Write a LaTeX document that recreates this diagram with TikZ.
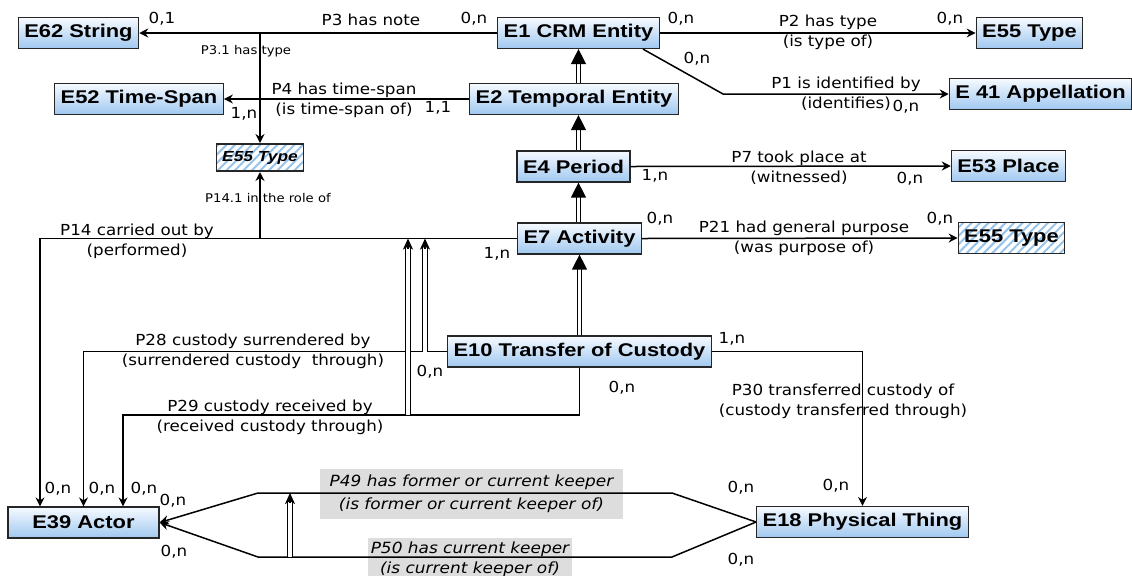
\documentclass[tikz,border=0pt]{standalone}
\usepackage{fontspec}
\newfontfamily\boxfont[FakeStretch=1.19]{Liberation Sans}
\newfontfamily\lblfont[FakeStretch=1.1]{DejaVu Sans}
\usetikzlibrary{arrows.meta,patterns.meta}
\usetikzlibrary{backgrounds}
\definecolor{boxtop}{RGB}{246,250,255}
\definecolor{boxbottom}{RGB}{160,200,240}
\definecolor{hatch}{RGB}{150,195,235}
\definecolor{keepergray}{RGB}{221,221,221}
\tikzset{entity/.style={
        draw=black!85, 
        line width=0.6pt, 
        top color=boxtop, 
        bottom color=boxbottom, 
        minimum height=15.5pt, 
        inner xsep=3pt,
        font=\boxfont\bfseries\fontsize{9.2}{11}\selectfont } }
\tikzset{typeentity/.style={
        draw=black!85, 
        line width=0.6pt, 
        pattern={Lines[angle=45,distance=3pt,line width=1pt]}, 
        pattern color=hatch, 
        minimum height=15.5pt, 
        inner xsep=3pt,
        font=\boxfont\bfseries\fontsize{9.2}{11}\selectfont } }
\tikzset{prop/.style={ inner sep=0pt, align=center, font=\lblfont\fontsize{7.6}{10}\selectfont } }
\tikzset{propsmall/.style={ inner sep=0pt, font=\lblfont\fontsize{6}{7}\selectfont } }
\tikzset{card/.style={ prop } }
\tikzset{keeper/.style={ fill=keepergray, align=center, inner sep=0pt, font=\lblfont\itshape\fontsize{7.7}{11.5}\selectfont } }
\tikzset{rel/.style={ draw, line width=0.75pt, -{Stealth[length=4.5pt,width=4.5pt,inset=1.5pt]} } }
\tikzset{isa/.style={ draw, line width=0.65pt, double, double distance=1.6pt, -{Triangle[length=7.5pt,width=7.5pt]} } }
\tikzset{subprop/.style={ draw, line width=0.6pt, double, double distance=1.6pt, shorten >=4pt } }
\tikzset{subtip/.style={ draw, line width=0.75pt, -{Stealth[length=5.5pt,width=5pt,inset=1.5pt]} } }
\begin{document}
\begin{tikzpicture}[x=0.5pt,y=-0.5pt]
\useasboundingbox (0,0) rectangle (1132,575);

%%ENTITIES
\node[entity] (e62) at (78.5,33) {E62 String};
\node[entity] (e1) at (578.5,33) {E1 CRM Entity};
\node[entity] (e55a) at (1029.5,33) {E55 Type};
\node[entity] (e52) at (139,99) {E52 Time-Span};
\node[entity] (e2) at (574,99) {E2 Temporal Entity};
\node[entity] (e41) at (1040.5,94) {E 41 Appellation};
\node[typeentity, minimum height=13.5pt, font=\boxfont\bfseries\itshape\fontsize{7.3}{9}\selectfont] (e55b) at (260,157.5) {E55 Type};
\node[entity] (e4) at (573.5,166.5) {E4 Period};
\node[entity] (e53) at (1008.5,166) {E53 Place};
\node[entity] (e7) at (579.5,238.5) {E7 Activity};
\node[typeentity] (e55c) at (1011.5,238) {E55 Type};
\node[entity] (e10) at (579.5,351.5) {E10 Transfer of Custody};
\node[entity, minimum width=75.5pt] (e39) at (83.5,522.5) {E39 Actor};
\node[entity] (e18) at (862.5,522) {E18 Physical Thing};

%%IS-A
\draw[isa] (e2.north -| e1) -- (e1.south);
\draw[isa] (e4.north -| e1) -- (e2.south -| e1);
\draw[isa] (e7.north -| e1) -- (e4.south -| e1);
\draw[isa] (e10.north) -- (e7.south);

%%PROPERTIES
\path
(e1.west) edge[rel] (e62.east)
(e2.west) edge[rel] (e52.east)
(e1.east) edge[rel] (e55a.west)
(e4.east) edge[rel] (e53.west)
(e7.east) edge[rel] (e55c.west)
;

\coordinate (p1k) at (723,94);
\draw[rel] ([xshift=32.25pt]e1.south) -- (p1k) -- (e41.west);
\draw[rel] (e55b |- e1.west) -- (e55b.north);
\draw[rel] (e7.west) -| ([xshift=-21.75pt]e39.north);
\draw[rel] (e55b |- e7.west) -- (e55b.south);
\draw[rel] (e10.west) -| (e39.north);
\coordinate (p29k) at (123,415);
\draw[rel] (e10.south) |- (p29k) -- (p29k |- e39.north);
\draw[rel] (e10.east) -| (e18.north);

% keepers: two routes from E18 to E39
\coordinate (k49r) at (672,493);
\coordinate (k49l) at (258,493);
\coordinate (k50r) at (672,557);
\coordinate (k50l) at (258,557);
\draw[rel] (e18.west) -- (k49r) -- (k49l) -- (e39.east);
\draw[rel] (e18.west) -- (k50r) -- (k50l) -- (e39.east);

%%SUB-PROPERTIES
\coordinate (s28) at (425,351.5);
\coordinate (s29) at (408,415);
\coordinate (s50) at (290,557);
\coordinate (t28) at (s28 |- e7.west);
\coordinate (t29) at (s29 |- e7.west);
\coordinate (t50) at (s50 |- k49l);
\draw[subprop] (s28) -- (t28);
\draw[subprop] (s29) -- (t29);
\draw[subprop] (s50) -- (t50);
\draw[subtip] ([yshift=-5pt]t28) -- (t28);
\draw[subtip] ([yshift=-5pt]t29) -- (t29);
\draw[subtip] ([yshift=-5pt]t50) -- (t50);

%%LABELS
\node[prop] (lp3) at (371,20) {P3 has note};
\node[propsmall] (lp31) at (246,51) {P3.1 has type};
\node[prop] (lp4) at (344,100) {P4 has time-span\\(is time-span of)};
\node[prop] (lp2) at (828,32) {P2 has type\\(is type of)};
\node[prop] (lp1) at (846,94) {P1 is identified by\\(identifies)};
\node[propsmall] (lp141) at (268,198) {P14.1 in the role of};
\node[prop] (lp7) at (799,167.5) {P7 took place at\\(witnessed)};
\node[prop] (lp14) at (137,241) {P14 carried out by\\(performed)};
\node[prop] (lp21) at (804,238) {P21 had general purpose\\(was purpose of)};
\node[prop] (lp28) at (253,351.5) {P28 custody surrendered by\\(surrendered custody\ \ through)};
\node[prop] (lp29) at (270,417) {P29 custody received by\\(received custody through)};
\node[prop] (lp30) at (843,401) {P30 transferred custody of\\(custody transferred through)};

%%CARDINALITIES
\node[card] (c1) at (162,19) {0,1};
\node[card] (c2) at (474,19) {0,n};
\node[card] (c3) at (681,19) {0,n};
\node[card] (c4) at (950,19) {0,n};
\node[card] (c5) at (697,59) {0,n};
\node[card] (c6) at (244,114) {1,n};
\node[card] (c7) at (438,108) {1,1};
\node[card] (c8) at (906,107) {0,n};
\node[card] (c9) at (655,176) {1,n};
\node[card] (c10) at (910,179) {0,n};
\node[card] (c11) at (660,219) {0,n};
\node[card] (c12) at (940,219) {0,n};
\node[card] (c13) at (497,254) {1,n};
\node[card] (c14) at (430,372) {0,n};
\node[card] (c15) at (732,339) {1,n};
\node[card] (c16) at (622,388) {0,n};
\node[card] (c17) at (58,489) {0,n};
\node[card] (c18) at (102,489) {0,n};
\node[card] (c19) at (144,489) {0,n};
\node[card] (c20) at (173,501) {0,n};
\node[card] (c21) at (174,552) {0,n};
\node[card] (c22) at (741,488) {0,n};
\node[card] (c23) at (741,560) {0,n};
\node[card] (c24) at (836,486) {0,n};

\begin{pgfonlayer}{background}
%KEEPER LABELS
\node[keeper, minimum width=151.5pt, minimum height=25pt] (lp49) at (471.5,494) {P49 has former or current keeper\\(is former or current keeper of)};
\node[keeper, minimum width=102pt, minimum height=21pt, font=\lblfont\itshape\fontsize{7.7}{10}\selectfont] (lp50) at (470,559) {P50 has current keeper\\(is current keeper of)};
\end{pgfonlayer}

\end{tikzpicture}
\end{document}
